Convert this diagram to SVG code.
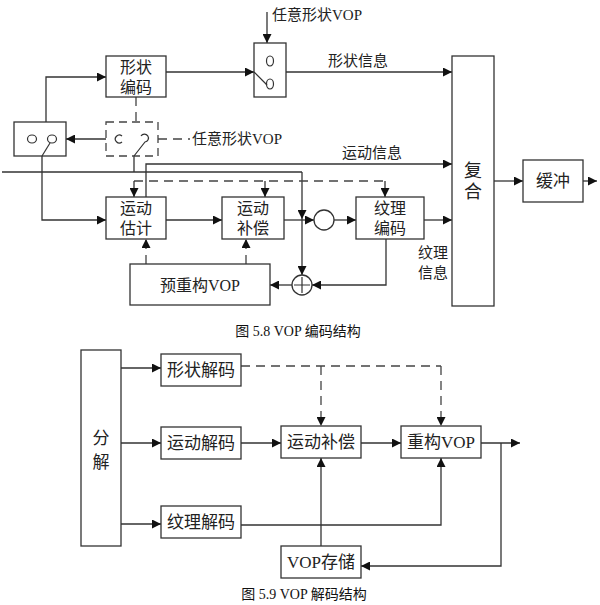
<svg xmlns="http://www.w3.org/2000/svg" width="600" height="605" viewBox="0 0 600 605">
<style>
.b{fill:#fff;stroke:#333;stroke-width:1.3}
.bd{fill:none;stroke:#444;stroke-width:1.3;stroke-dasharray:8,5}
.l{fill:none;stroke:#333;stroke-width:1.3}
.d{fill:none;stroke:#444;stroke-width:1.3;stroke-dasharray:9,6}
.a{marker-end:url(#ah)}
.t{font-family:"Liberation Serif","Noto Sans CJK SC",serif;font-size:16px;fill:#222;text-anchor:middle;dominant-baseline:central}
.s{font-family:"Liberation Serif","Noto Sans CJK SC",serif;font-size:15px;fill:#222;dominant-baseline:central}
.c{font-family:"Liberation Serif","Noto Sans CJK SC",serif;font-size:14px;fill:#111;text-anchor:middle;dominant-baseline:central}
.sw{fill:none;stroke:#333;stroke-width:1.2}
</style>
<defs>
<marker id="ah" viewBox="0 0 10 10" refX="10" refY="5" markerWidth="11" markerHeight="9" orient="auto" markerUnits="userSpaceOnUse"><path d="M0,0 L10,5 L0,10 z" fill="#111"/></marker>
</defs>

<g id="connectors">
<!-- encoder -->
<path class="l a" d="M267,12 V43"/>
<path class="l a" d="M166,72 H254"/>
<path class="l a" d="M286,72 H452"/>
<path class="l a" d="M46,122 V77 H106"/>
<path class="d" d="M136,97 V122"/>
<path class="d" d="M158,139 H190"/>
<path class="l a" d="M106,139 H66"/>
<path class="l" d="M134,156 V172"/>
<path class="l a" d="M42,156 V220 H106"/>
<path class="l" d="M2,172 H302"/>
<path class="l a" d="M302,172 V219"/>
<path class="l a" d="M302,219 V275"/>
<path class="l a" d="M146,197 V164 H452"/>
<path class="d" d="M134,181 H385"/>
<path class="l a" d="M134,181 V197"/>
<path class="l a" d="M265,181 V197"/>
<path class="l a" d="M385,181 V197"/>
<path class="l a" d="M166,220 H222"/>
<path class="l a" d="M284,220 H314"/>
<path class="l a" d="M334,220 H356"/>
<path class="l a" d="M424,220 H452"/>
<path class="l a" d="M386,239 V285 H312"/>
<path class="l a" d="M292,285 H270"/>
<path class="d a" d="M146,264 V239"/>
<path class="d a" d="M246,264 V239"/>
<path class="l a" d="M494,181 H523"/>
<path class="l a" d="M583,181 H597"/>
<!-- decoder -->
<path class="l a" d="M121,368 H161"/>
<path class="l a" d="M121,443 H161"/>
<path class="l a" d="M121,524 H161"/>
<path class="d" d="M241,366 H441"/>
<path class="d a" d="M321,366 V426"/>
<path class="d a" d="M441,366 V426"/>
<path class="l a" d="M241,443 H281"/>
<path class="l a" d="M361,443 H401"/>
<path class="l a" d="M481,443 H520"/>
<path class="l a" d="M501,443 V566 H361"/>
<path class="l a" d="M321,546 V458"/>
<path class="l a" d="M241,525 H441 V458"/>
</g>

<g id="shape-encode"><rect class="b" x="106" y="56" width="60" height="41"/><text class="t" x="136" y="67">形状</text><text class="t" x="136" y="87">编码</text></g>

<g id="switch-top"><rect class="b" x="254" y="43" width="32" height="54"/><ellipse class="sw" cx="270" cy="61" rx="3.5" ry="5"/><ellipse class="sw" cx="270" cy="84" rx="3.5" ry="5"/><path class="sw" d="M254,72 L267,85"/></g>
<text class="s" x="272" y="15">任意形状VOP</text>
<text class="s" x="328" y="61">形状信息</text>

<g id="switch-left"><rect class="b" x="14" y="122" width="52" height="34"/><ellipse class="sw" cx="32" cy="139" rx="4.5" ry="4"/><ellipse class="sw" cx="52" cy="139" rx="4.5" ry="4"/><path class="sw" d="M42,156 L50,143"/></g>

<g id="switch-dashed"><rect class="bd" x="106" y="122" width="52" height="34"/><path class="sw" d="M122,136 A4,4 0 1 0 122,142"/><path class="sw" d="M141,136 A4,4 0 1 1 145,142 L134,156"/></g>
<text class="s" x="192" y="139">任意形状VOP</text>

<text class="s" x="342" y="153">运动信息</text>

<g id="motion-est"><rect class="b" x="106" y="197" width="60" height="42"/><text class="t" x="136" y="208">运动</text><text class="t" x="136" y="228">估计</text></g>
<g id="motion-comp"><rect class="b" x="222" y="197" width="62" height="42"/><text class="t" x="253" y="208">运动</text><text class="t" x="253" y="228">补偿</text></g>
<g id="sub"><circle class="b" cx="324" cy="220" r="10"/></g>
<g id="texture-encode"><rect class="b" x="356" y="197" width="68" height="42"/><text class="t" x="390" y="208">纹理</text><text class="t" x="390" y="228">编码</text></g>
<g id="add"><circle class="b" cx="302" cy="285" r="10"/><path class="sw" d="M302,277 V293 M294,285 H310"/></g>
<g id="pre-recon"><rect class="b" x="130" y="264" width="140" height="41"/><text class="t" x="200" y="285">预重构VOP</text></g>
<text class="s" x="418" y="253">纹理</text>
<text class="s" x="418" y="273">信息</text>

<g id="mux"><rect class="b" x="452" y="56" width="42" height="250"/><text class="t" x="473" y="171" style="font-size:18px">复</text><text class="t" x="473" y="192" style="font-size:18px">合</text></g>
<g id="buffer"><rect class="b" x="523" y="160" width="60" height="42"/><text class="t" x="553" y="181" style="font-size:17px">缓冲</text></g>

<text class="c" x="298" y="331">图 5.8 VOP 编码结构</text>

<g id="demux"><rect class="b" x="81" y="350" width="40" height="196"/><text class="t" x="101" y="438" style="font-size:17px">分</text><text class="t" x="101" y="462" style="font-size:17px">解</text></g>
<g id="shape-decode"><rect class="b" x="161" y="354" width="80" height="32"/><text class="t" x="201" y="370" style="font-size:17px">形状解码</text></g>
<g id="motion-decode"><rect class="b" x="161" y="427" width="80" height="32"/><text class="t" x="201" y="443" style="font-size:17px">运动解码</text></g>
<g id="texture-decode"><rect class="b" x="161" y="506" width="80" height="32"/><text class="t" x="201" y="522" style="font-size:17px">纹理解码</text></g>
<g id="motion-comp2"><rect class="b" x="281" y="426" width="80" height="32"/><text class="t" x="321" y="442" style="font-size:17px">运动补偿</text></g>
<g id="recon-vop"><rect class="b" x="401" y="426" width="80" height="32"/><text class="t" x="441" y="442" style="font-size:17px">重构VOP</text></g>
<g id="vop-store"><rect class="b" x="281" y="546" width="80" height="32"/><text class="t" x="321" y="562" style="font-size:17px">VOP存储</text></g>

<text class="c" x="304" y="594">图 5.9 VOP 解码结构</text>
</svg>
